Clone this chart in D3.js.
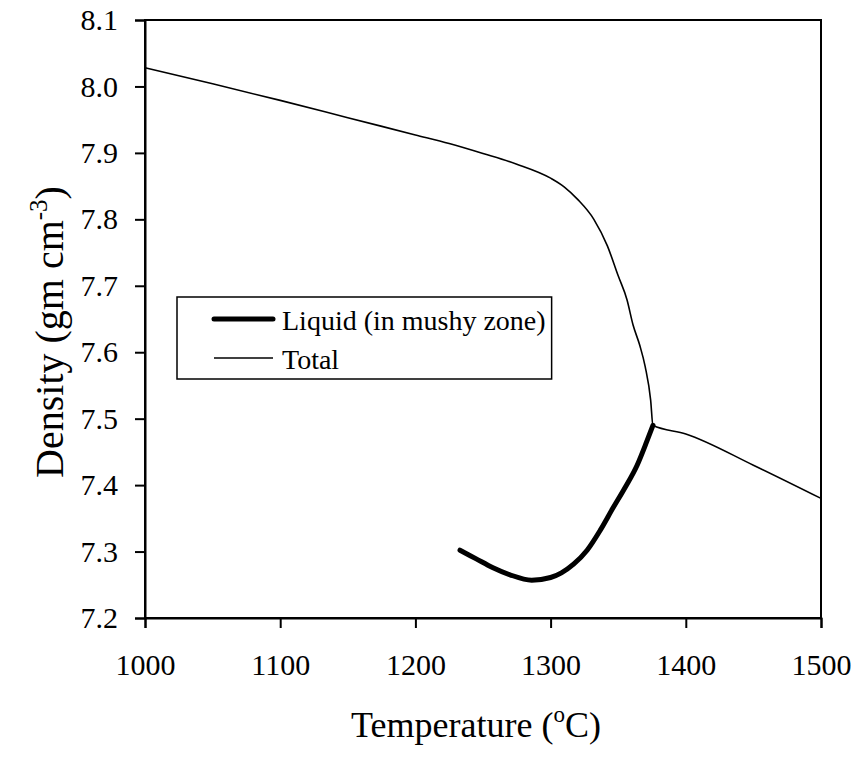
<!DOCTYPE html>
<html>
<head>
<meta charset="utf-8">
<script src="https://cdn.jsdelivr.net/npm/d3@7"></script>
<style>
  body { margin: 0; background: #fff; }
  text { font-family: "Liberation Serif", "Times New Roman", serif; fill: #000; }
</style>
</head>
<body>
<div id="chart"></div>
<script>
let w = 858;
let h = 760;
let margin = {left: 145, right: 37, top: 20, bottom: 142};

// data
let totalTemp = [1000, 1050, 1100, 1150, 1200, 1225, 1250, 1275, 1300, 1310, 1320, 1332, 1342, 1350, 1356.5, 1361, 1366, 1370, 1374, 1375.7, 1400, 1450, 1500];
let totalDens = [8.028, 8.004, 7.979, 7.953, 7.927, 7.914, 7.899, 7.883, 7.862, 7.849, 7.830, 7.800, 7.760, 7.715, 7.679, 7.641, 7.610, 7.578, 7.528, 7.490, 7.477, 7.430, 7.380];

let liquidTemp = [1233, 1245, 1257, 1270, 1286, 1300, 1308, 1317, 1327, 1337, 1346, 1355, 1364, 1371, 1375.7];
let liquidDens = [7.302, 7.289, 7.276, 7.265, 7.257, 7.261, 7.268, 7.281, 7.302, 7.333, 7.365, 7.396, 7.430, 7.465, 7.490];

let xTicks = [1000, 1100, 1200, 1300, 1400, 1500];
let yTicks = [7.2, 7.3, 7.4, 7.5, 7.6, 7.7, 7.8, 7.9, 8.0, 8.1];

let legendLabels = ["Liquid (in mushy zone)", "Total"];

let viz = d3.select("#chart")
  .append("svg")
  .attr("width", w)
  .attr("height", h);

let xScale = d3.scaleLinear().domain([1000, 1500]).range([margin.left, w - margin.right]);
let yScale = d3.scaleLinear().domain([7.2, 8.1]).range([h - margin.bottom, margin.top]);

// frame (top and right)
viz.append("rect")
  .attr("x", xScale(1000))
  .attr("y", yScale(8.1))
  .attr("width", xScale(1500) - xScale(1000))
  .attr("height", yScale(7.2) - yScale(8.1))
  .attr("fill", "none")
  .attr("stroke", "#000")
  .attr("stroke-width", 2);

let xAxis = d3.axisBottom(xScale).tickValues(xTicks).tickSize(10).tickPadding(26).tickFormat(d3.format("d"));
let yAxis = d3.axisLeft(yScale).tickValues(yTicks).tickSize(10).tickPadding(17).tickFormat(d3.format(".1f"));

let xAxisGroup = viz.append("g")
  .attr("transform", "translate(0," + yScale(7.2) + ")")
  .call(xAxis);
let yAxisGroup = viz.append("g")
  .attr("transform", "translate(" + xScale(1000) + ",0)")
  .call(yAxis);

[xAxisGroup, yAxisGroup].forEach(g => {
  g.select(".domain").attr("stroke-width", 2);
  g.selectAll(".tick line").attr("stroke-width", 2);
  g.selectAll("text").style("font-family", "Liberation Serif").style("font-size", "30px");
});

let line = d3.line()
  .x(d => xScale(d[0]))
  .y(d => yScale(d[1]))
  .curve(d3.curveMonotoneX);

let totalData = totalTemp.map((t, i) => [t, totalDens[i]]);
let liquidData = liquidTemp.map((t, i) => [t, liquidDens[i]]);

viz.append("path")
  .datum(totalData)
  .attr("d", line)
  .attr("fill", "none")
  .attr("stroke", "#000")
  .attr("stroke-width", 1.6);

viz.append("path")
  .datum(liquidData)
  .attr("d", line)
  .attr("fill", "none")
  .attr("stroke", "#000")
  .attr("stroke-width", 5)
  .attr("stroke-linecap", "round");

// axis titles
let xTitle = viz.append("text")
  .attr("x", 476)
  .attr("y", 737)
  .attr("text-anchor", "middle")
  .style("font-size", "36px");
xTitle.append("tspan").text("Temperature (");
xTitle.append("tspan").attr("dy", -15).style("font-size", "23px").text("o");
xTitle.append("tspan").attr("dy", 15).text("C)");

let yTitle = viz.append("text")
  .attr("transform", "translate(63,332) rotate(-90)")
  .attr("text-anchor", "middle")
  .style("font-size", "40px");
yTitle.append("tspan").text("Density (gm cm");
yTitle.append("tspan").attr("dy", -16).style("font-size", "25px").text("-3");
yTitle.append("tspan").attr("dy", 16).text(")");

// legend
let legend = viz.append("g").attr("transform", "translate(177,297)");
let legendBox = legend.append("rect")
  .attr("height", 82)
  .attr("fill", "#fff")
  .attr("stroke", "#000")
  .attr("stroke-width", 1.5);

let legendWidths = [5, 1.6];
let maxLen = 0;
legendLabels.forEach((label, i) => {
  let y = 22 + i * 39;
  legend.append("line")
    .attr("x1", 37).attr("x2", 96)
    .attr("y1", y).attr("y2", y)
    .attr("stroke", "#000")
    .attr("stroke-width", legendWidths[i])
    .attr("stroke-linecap", i == 0 ? "round" : "butt");
  let t = legend.append("text")
    .attr("x", 105)
    .attr("y", y + 11)
    .style("font-size", "28px")
    .text(label);
  maxLen = Math.max(maxLen, t.node().getComputedTextLength());
});
legendBox.attr("width", 105 + maxLen + 6);
</script>
</body>
</html>
